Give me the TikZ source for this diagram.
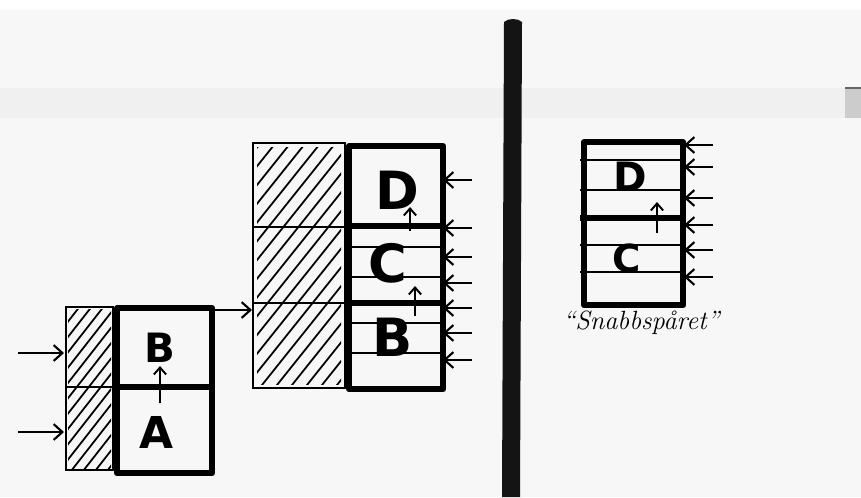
\documentclass[tikz,border=0pt]{standalone}
\usepackage{fontspec}
\newfontfamily\letterfont{DejaVu Sans}
\usetikzlibrary{arrows.meta}
\tikzset{
  thickbox/.style={line width=3.6pt, line join=round},
  thinline/.style={line width=1.3pt},
  hatchbox/.style={line width=1.2pt},
  hatchline/.style={line width=1.0pt, line cap=round},
  inarrow/.style={line width=1.2pt, -{Straight Barb[length=5pt,width=9pt,line width=1.2pt]}},
  uparrow/.style={line width=1.1pt, -{Straight Barb[length=4pt,width=7pt,line width=1.1pt]}},
  letter/.style={font=\letterfont\bfseries, inner sep=0pt},
}
\begin{document}
\begin{tikzpicture}[x=0.02cm, y=-0.02cm]
\useasboundingbox (0,0) rectangle (861,497);
% paper
\fill[white] (0,0) rectangle (861,497);
\fill[black!3] (0,10) rectangle (861,497);
\fill[black!6] (0,88) rectangle (845,118);
\fill[black!20] (845,88) rectangle (861,118);
\draw[black!60, line width=1.5pt] (845,88) -- (861,88);

% ---------- left diagram ----------
\begin{scope}
  \clip (68,309) rectangle (111,468);
  \foreach \i in {-200,-188,...,120} \draw[hatchline] (\i,480) -- ++(180,-230);
\end{scope}
\draw[hatchbox] (66,307) rectangle (113,470);
\draw[hatchbox] (66,387) -- (113,387);
\node[draw, thickbox, inner sep=0pt, rectangle, anchor=north west,
      minimum width=1.9cm, minimum height=3.3cm] (L) at (114,305) {};
\draw[thickbox] (113,387) -- (210,387);
\node[letter, font=\letterfont\bfseries\fontsize{23}{23}\selectfont] (Lb) at (160,348) {B};
\node[letter, font=\letterfont\bfseries\fontsize{25}{25}\selectfont] (La) at (156,432) {A};
\coordinate (lb1) at (160,403); \coordinate (lb2) at (160,366);
\draw[uparrow] (lb1) -- (lb2);
\coordinate (la1) at (18,353); \coordinate (la2) at (64,353);
\coordinate (la3) at (18,432); \coordinate (la4) at (64,432);
\draw[inarrow] (la1) -- (la2);
\draw[inarrow] (la3) -- (la4);

% ---------- middle diagram ----------
\begin{scope}
  \clip (257,147) rectangle (341,384);
  \foreach \i in {-260,-245,...,340} \draw[hatchline] (\i,400) -- ++(240,-300);
\end{scope}
\draw[hatchbox] (253,143) rectangle (345,388);
\draw[hatchbox] (253,227) -- (345,227);
\draw[hatchbox] (253,303) -- (345,303);
\node[draw, thickbox, inner sep=0pt, rectangle, anchor=north west,
      minimum width=1.88cm, minimum height=4.86cm] (M) at (346,143) {};
\draw[thickbox] (345,226) -- (440,226);
\draw[thickbox] (345,303) -- (440,303);
\foreach \yy in {247,277,323,353} \draw[thinline] (345,\yy) -- (440,\yy);
\node[letter, font=\letterfont\bfseries\fontsize{30}{30}\selectfont] (Md) at (397,190) {D};
\node[letter, font=\letterfont\bfseries\fontsize{30}{30}\selectfont] (Mc) at (388,263) {C};
\node[letter, font=\letterfont\bfseries\fontsize{30}{30}\selectfont] (Mb) at (393,337) {B};
\coordinate (m1) at (410,231); \coordinate (m2) at (410,207);
\coordinate (m3) at (415,316); \coordinate (m4) at (415,286);
\draw[uparrow] (m1) -- (m2);
\draw[uparrow] (m3) -- (m4);
\foreach \yy in {180,228,257,283,308,333,360} {
  \coordinate (mt\yy) at (472,\yy); \coordinate (mh\yy) at (443,\yy);
  \draw[inarrow] (mt\yy) -- (mh\yy);
}
\coordinate (lm1) at (212,310); \coordinate (lm2) at (252,310);
\draw[inarrow] (lm1) -- (lm2);

% ---------- divider bar ----------
\fill[black!92] (504,22) .. controls (508,18) and (518,18) .. (522,22) -- (520,497) -- (502,497) -- cycle;

% ---------- right diagram ----------
\node[draw, thickbox, inner sep=0pt, rectangle, anchor=north west,
      minimum width=1.98cm, minimum height=3.26cm] (R) at (581,139) {};
\draw[thickbox] (580,218) -- (680,218);
\foreach \yy in {160,190,245,272} \draw[thinline] (580,\yy) -- (680,\yy);
\node[letter, font=\letterfont\bfseries\fontsize{23}{23}\selectfont] (Rd) at (630,177) {D};
\node[letter, font=\letterfont\bfseries\fontsize{22}{22}\selectfont] (Rc) at (627,258) {C};
\coordinate (r1) at (657,233); \coordinate (r2) at (657,202);
\draw[uparrow] (r1) -- (r2);
\foreach \yy in {145,167,198,225,250,277} {
  \coordinate (rt\yy) at (713,\yy); \coordinate (rh\yy) at (684,\yy);
  \draw[inarrow] (rt\yy) -- (rh\yy);
}
\node[font=\itshape\fontsize{15}{15}\selectfont, inner sep=0pt] (snab) at (641,323) {``Snabbspåret''};
\end{tikzpicture}
\end{document}
